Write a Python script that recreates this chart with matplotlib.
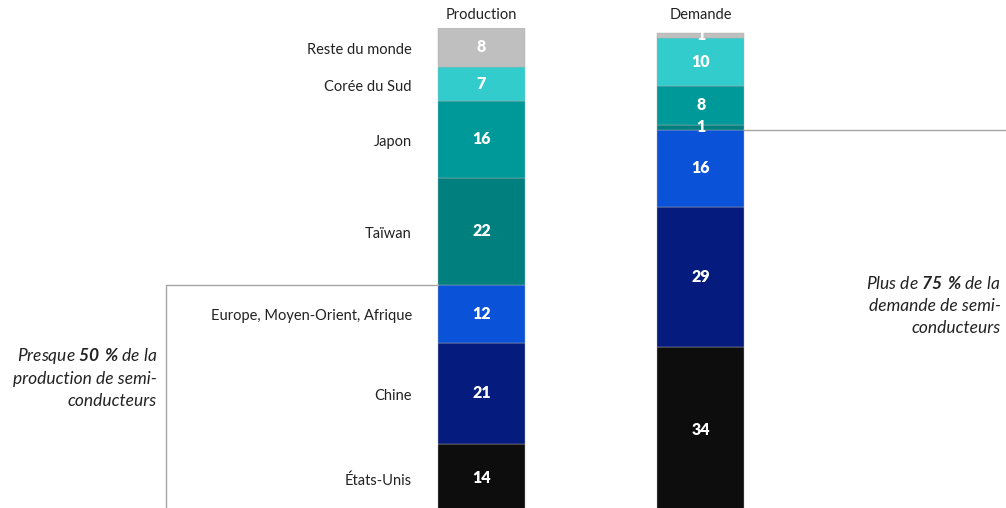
import matplotlib
matplotlib.use('Agg')
import matplotlib.pyplot as plt
import numpy as np

# regions, bottom to top
regions = ["États-Unis", "Chine", "Europe, Moyen-Orient, Afrique", "Taïwan",
           "Japon", "Corée du Sud", "Reste du monde"]
production = [14, 21, 12, 22, 16, 7, 8]
demande = [34, 29, 16, 1, 8, 10, 1]
bar_names = ["Production", "Demande"]
colors = ["#0d0d0d", "#051c7e", "#0a52d8", "#007f7f", "#009999", "#33cccc", "#bfbfbf"]

plt.rcParams['font.family'] = ['Lato', 'DejaVu Sans']
plt.rcParams['mathtext.fontset'] = 'custom'
plt.rcParams['mathtext.bf'] = 'Lato:bold:italic'
plt.rcParams['mathtext.rm'] = 'Lato:italic'

fig = plt.figure(figsize=(10.06, 5.08), dpi=100)
# bars run slightly past the bottom edge of the picture
ax = fig.add_axes([0, -4 / 508, 1, 484 / 508])
ax.set_xlim(-2.194, 2.390)
ax.set_ylim(0, 100)
ax.axis('off')

width = 0.396
for xi, vals in enumerate([production, demande]):
    bottoms = np.concatenate([[0], np.cumsum(vals)[:-1]])
    ax.bar([xi] * len(vals), vals, bottom=bottoms, width=width, color=colors,
           edgecolor='#b0b0b0', linewidth=0.3)
    for v, b in zip(vals, bottoms):
        ax.text(xi, b + v / 2, str(v), ha='center', va='center', color='white',
                fontsize=11.5, fontweight='heavy')
    ax.text(xi, 102.6, bar_names[xi], ha='center', va='center', fontsize=10.5,
            color='#222222', clip_on=False)

# category labels next to the production bar
pb = np.concatenate([[0], np.cumsum(production)[:-1]])
for name, v, b in zip(regions, production, pb):
    ax.text(-0.317, b + v / 2 - 0.6, name, ha='right', va='center', fontsize=10.5,
            color='#222222')

# brackets
top3_prod = sum(production[:3])
top3_dem = sum(demande[:3])
ax.plot([-width / 2, -1.437, -1.437], [top3_prod, top3_prod, -2], color='#a6a6a6',
        lw=1, clip_on=False)
ax.plot([1 + width / 2, 2.390], [top3_dem, top3_dem], color='#a6a6a6', lw=1, clip_on=False)

ax.text(-1.48, 27.8, "Presque $\\mathbf{50\\ \\%}$ de la\nproduction de semi-\nconducteurs",
        ha='right', va='center', fontsize=12.5, style='italic', color='#222222',
        linespacing=1.45)
ax.text(2.365, 42.6, "Plus de $\\mathbf{75\\ \\%}$ de la\ndemande de semi-\nconducteurs",
        ha='right', va='center', fontsize=12.5, style='italic', color='#222222',
        linespacing=1.45)

fig.savefig("out.png", dpi=100)
